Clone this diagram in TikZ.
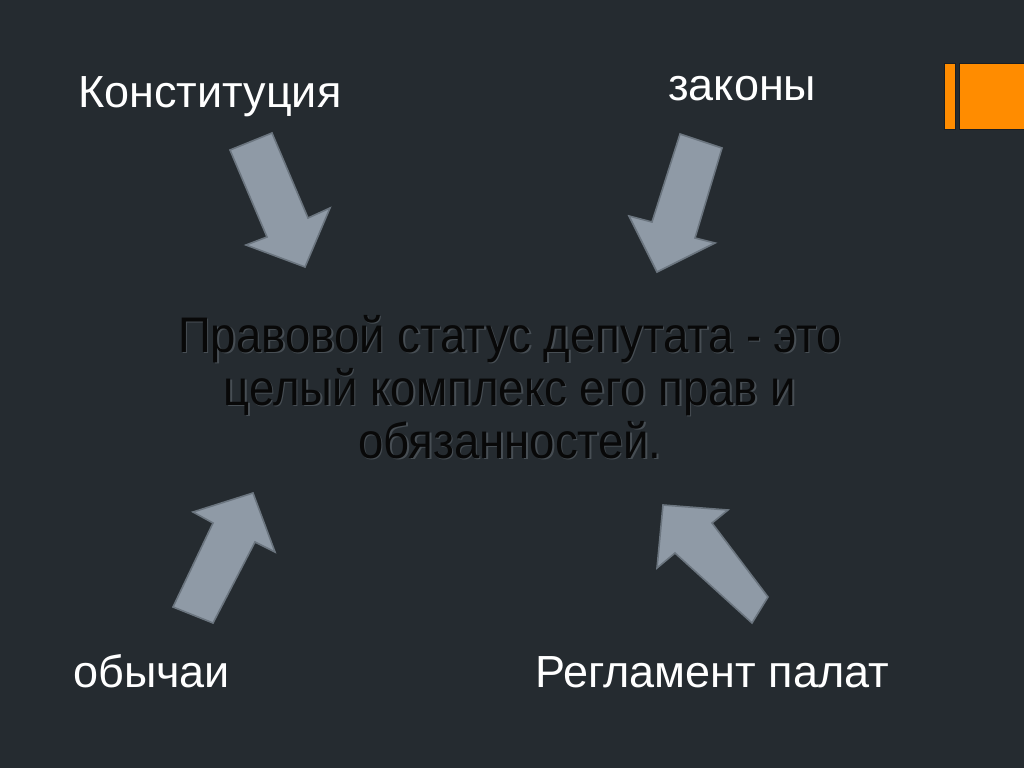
\documentclass[tikz,border=0pt]{standalone}
\usepackage{fontspec}
\setmainfont{Liberation Sans}
\definecolor{bg}{HTML}{252B30}
\definecolor{arrowfill}{HTML}{8F9AA6}
\definecolor{arrowedge}{HTML}{6B757F}
\definecolor{orangebar}{HTML}{FF8C00}
\definecolor{shadowtext}{HTML}{474E54}
\definecolor{maintext}{HTML}{080808}
\tikzset{
  label/.style={anchor=base west, inner sep=0pt, text=white, font=\fontsize{45}{54}\selectfont},
  blockarrow/.style={fill=arrowfill, draw=arrowedge, line width=1.6pt, line join=miter},
  bar/.style={fill=orangebar, draw=bg!70!black, line width=0.8pt},
  central/.style={align=center, inner sep=0pt, xscale=0.91, transform shape, font=\fontsize{50}{53}\selectfont}
}
\begin{document}
\begin{tikzpicture}[x=1pt, y=-1pt]
\fill[bg] (0,0) rectangle (1024,768);
\useasboundingbox (0,0) rectangle (1024,768);
% orange bars
\path[bar] (944,63) rectangle (955,129);
\path[bar] (959,63) rectangle (1026,129);
% labels
\node[label] (konst) at (78,107) {Конституция};
\node[label] (zak) at (668,100) {законы};
\node[label] (obych) at (73,687) {обычаи};
\node[label] (regl) at (535,687) {Регламент палат};
% block arrows
\draw[blockarrow] (230,150) -- (272,133) -- (308,218) -- (330,208) -- (305,267) -- (246,245) -- (267,237) -- cycle;
\draw[blockarrow] (680,134) -- (722,148) -- (695,238) -- (715,243) -- (657,272) -- (629,216) -- (652,222) -- cycle;
\draw[blockarrow] (173,607) -- (213,623) -- (255,542) -- (275,552) -- (253,493) -- (193,512) -- (213,523) -- cycle;
\draw[blockarrow] (663,505) -- (728,510) -- (712,523) -- (768,597) -- (752,623) -- (675,553) -- (657,568) -- cycle;
% central text with shadow
\node[central, text=shadowtext, anchor=base] (centershadow) at (511.5,459.5) {Правовой статус депутата - это\\целый комплекс его прав и\\обязанностей.};
\node[central, text=maintext, anchor=base] (center) at (510,458) {Правовой статус депутата - это\\целый комплекс его прав и\\обязанностей.};
\end{tikzpicture}
\end{document}
